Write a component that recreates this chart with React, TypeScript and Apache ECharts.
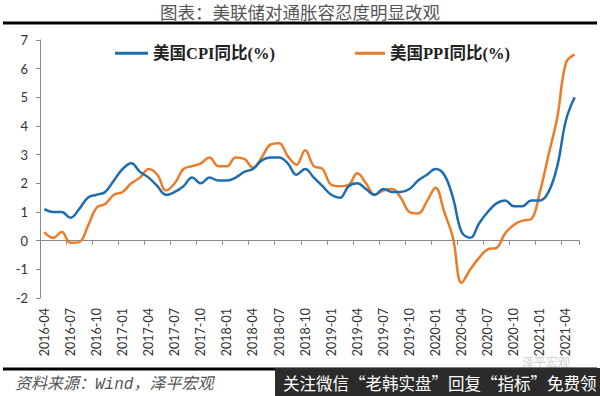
import React, { useEffect, useRef } from "react";
import * as echarts from "echarts";

const months: string[] = (() => {
  const out: string[] = [];
  let y = 2016;
  let m = 4;
  for (let i = 0; i < 62; i++) {
    out.push(`${y}-${m < 10 ? "0" + m : m}`);
    m++;
    if (m > 12) {
      m = 1;
      y++;
    }
  }
  return out;
})();

const cpiName = "美国CPI同比(%)";
const ppiName = "美国PPI同比(%)";

const cpiValues: number[] = [
  1.1, 1.0, 1.0, 0.8, 1.1, 1.5, 1.6, 1.7, 2.1,
  2.5, 2.7, 2.4, 2.2, 1.9, 1.6, 1.7, 1.9, 2.2, 2.0, 2.2, 2.1,
  2.1, 2.2, 2.4, 2.5, 2.8, 2.9, 2.9, 2.7, 2.3, 2.5, 2.2, 1.9,
  1.6, 1.5, 1.9, 2.0, 1.8, 1.6, 1.8, 1.7, 1.7, 1.8, 2.1, 2.3,
  2.5, 2.3, 1.5, 0.3, 0.1, 0.6, 1.0, 1.3, 1.4, 1.2, 1.2, 1.4,
  1.4, 1.7, 2.6, 4.2, 5.0,
];

const ppiValues: number[] = [
  0.3, 0.1, 0.3, -0.07, -0.05, 0.5, 1.15, 1.28, 1.6,
  1.7, 2.0, 2.2, 2.5, 2.3, 1.75, 2.0, 2.5, 2.6, 2.7, 2.9, 2.6,
  2.6, 2.9, 2.85, 2.55, 2.9, 3.35, 3.4, 2.95, 2.65, 3.15, 2.6, 2.5,
  1.95, 1.9, 1.95, 2.35, 2.0, 1.6, 1.75, 1.8, 1.5, 1.0, 0.95, 1.37,
  1.85, 1.0, 0.1, -1.47, -1.0, -0.6, -0.3, -0.25, 0.25, 0.55, 0.7, 0.75,
  1.7, 3.0, 4.3, 6.2, 6.5,
];

const yTicks = { min: -2, max: 7, interval: 1 };

const titleText = "图表：美联储对通胀容忍度明显改观";
const sourceText = "资料来源：Wind，泽平宏观";
const bannerText = "关注微信“老韩实盘”回复“指标”免费领";

const BLUE = "#1f6db1";
const ORANGE = "#eb7c2a";

export default function App() {
  const ref = useRef<HTMLDivElement>(null);

  useEffect(() => {
    if (!ref.current) return;
    const chart = echarts.init(ref.current, undefined, { renderer: "svg" });
    const labelFont = "Lato, 'Open Sans', sans-serif";
    const legendText = {
      fontSize: 16.5,
      fontWeight: "bold" as const,
      color: "#222",
      fontFamily: "'Liberation Serif', 'Noto Sans CJK SC', serif",
    };
    chart.setOption({
      animation: false,
      backgroundColor: "#fff",
      grid: { left: 40, right: 21, top: 40, bottom: 98, containLabel: false },
      legend: [
        {
          data: [cpiName],
          left: 110,
          top: 40,
          icon: "rect",
          itemWidth: 33,
          itemHeight: 3,
          textStyle: legendText,
        },
        {
          data: [ppiName],
          left: 350,
          top: 40,
          icon: "rect",
          itemWidth: 30,
          itemHeight: 3,
          textStyle: legendText,
        },
      ],
      xAxis: [
        {
          type: "category",
          data: months,
          boundaryGap: true,
          axisLine: { show: true, onZero: true, lineStyle: { color: "#8a8a8a", width: 1 } },
          axisTick: { show: true, interval: 2, length: 4, lineStyle: { color: "#8a8a8a" } },
          axisLabel: { show: false },
          splitLine: { show: false },
        },
        {
          type: "category",
          data: months,
          position: "bottom",
          boundaryGap: true,
          axisLine: { show: false, onZero: false },
          axisTick: { show: false },
          axisLabel: {
            show: true,
            interval: 2,
            rotate: 90,
            margin: 10,
            fontSize: 12.5,
            color: "#333",
            fontFamily: labelFont,
          },
          splitLine: { show: false },
        },
      ],
      yAxis: {
        type: "value",
        min: yTicks.min,
        max: yTicks.max,
        interval: yTicks.interval,
        axisLine: { show: true, lineStyle: { color: "#8a8a8a" } },
        axisTick: { show: true, length: 4, lineStyle: { color: "#8a8a8a" } },
        axisLabel: { fontSize: 13, color: "#333", margin: 12, fontFamily: labelFont },
        splitLine: { show: false },
      },
      series: [
        {
          name: cpiName,
          type: "line",
          xAxisIndex: 0,
          data: cpiValues,
          smooth: 0.4,
          symbol: "none",
          lineStyle: { color: BLUE, width: 2.5 },
          itemStyle: { color: BLUE },
          z: 3,
        },
        {
          name: ppiName,
          type: "line",
          xAxisIndex: 0,
          data: ppiValues,
          smooth: 0.4,
          symbol: "none",
          lineStyle: { color: ORANGE, width: 2.5 },
          itemStyle: { color: ORANGE },
          z: 2,
        },
      ],
      graphic: [
        {
          type: "text",
          x: 300,
          y: 11,
          style: {
            text: titleText,
            textAlign: "center",
            textVerticalAlign: "middle",
            fontSize: 17.5,
            fill: "#555",
            fontFamily: "'Noto Sans CJK SC', sans-serif",
          },
        },
        {
          type: "line",
          shape: { x1: 3, y1: 23, x2: 597, y2: 23 },
          style: { stroke: "#000", lineWidth: 3 },
        },
        {
          type: "text",
          x: 522,
          y: 361,
          style: {
            text: "泽平宏观",
            textAlign: "left",
            textVerticalAlign: "middle",
            fontSize: 12,
            fill: "#cfcfcf",
            fontFamily: "'Noto Sans CJK SC', sans-serif",
          },
        },
        {
          type: "line",
          shape: { x1: 3, y1: 369, x2: 597, y2: 369 },
          style: { stroke: "#000", lineWidth: 3 },
        },
        {
          type: "rect",
          shape: { x: 275, y: 368, width: 325, height: 28 },
          style: { fill: "#2b2b2b" },
        },
        {
          type: "text",
          x: 283,
          y: 383,
          style: {
            text: bannerText,
            textAlign: "left",
            textVerticalAlign: "middle",
            fontSize: 16.5,
            fill: "#fff",
            fontFamily: "'Noto Sans CJK SC', sans-serif",
          },
        },
        {
          type: "text",
          x: 15,
          y: 385,
          style: {
            text: sourceText,
            textAlign: "left",
            textVerticalAlign: "middle",
            fontSize: 16,
            fontStyle: "italic",
            fill: "#555",
            fontFamily: "'Liberation Mono', 'Noto Sans CJK SC', monospace",
          },
        },
      ],
    });
    return () => chart.dispose();
  }, []);

  return (
    <div
      ref={ref}
      style={{ position: "fixed", left: 0, top: 0, width: 600, height: 396 }}
    />
  );
}
